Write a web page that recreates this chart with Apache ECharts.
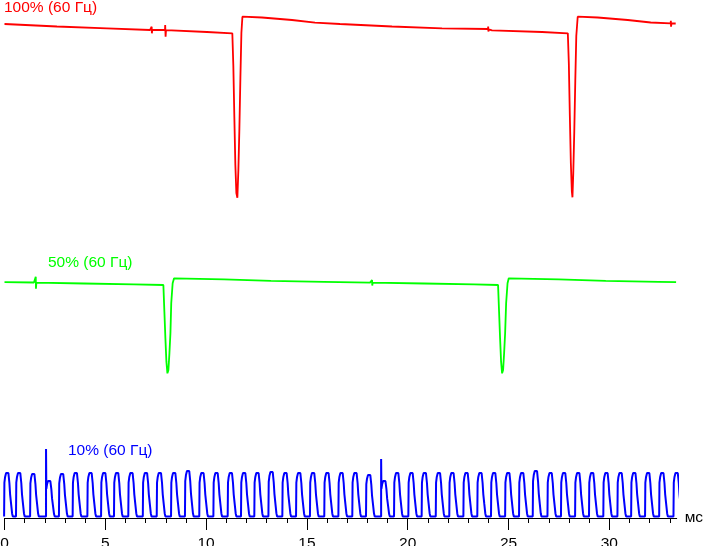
<!DOCTYPE html>
<html>
<head>
<meta charset="utf-8">
<script src="https://cdn.jsdelivr.net/npm/echarts@6.0.0/dist/echarts.min.js"></script>
<style>
  html, body { margin: 0; padding: 0; background: #fff; }
  #chart { width: 703px; height: 546px; }
</style>
</head>
<body>
<div id="chart"></div>
<script>
// time in ms, level = height above the time axis (px of the original plot)
const majorTicks = [0, 5, 10, 15, 20, 25, 30]
const minorTicks = [1, 2, 3, 4, 6, 7, 8, 9, 11, 12, 13, 14, 16, 17, 18, 19,
  21, 22, 23, 24, 26, 27, 28, 29, 31, 32, 33]

// 100% (60 Гц)
const redT = [0, 2.60, 5.08, 7.22, 7.30, 7.31, 7.33, 7.96, 7.97, 7.99, 8.01, 10.04,
  11.30, 11.35, 11.40, 11.45, 11.50, 11.55, 11.60, 11.65, 11.70, 11.75, 11.80,
  12.77, 14.26, 15.40, 16.64, 19.22, 21.70, 23.98, 23.99, 24.00, 24.02, 24.18, 26.66,
  27.94, 27.99, 28.04, 28.09, 28.14, 28.17, 28.21, 28.26, 28.31, 28.36, 28.43,
  29.42, 30.91, 32.05, 33.04, 33.05, 33.06, 33.08, 33.29]
const redV = [494, 491.5, 489.7, 488, 491.3, 484.7, 488, 488, 493, 481.3, 487.8, 486,
  484.7, 452.3, 401, 353, 325, 320.3, 348, 389.3, 440, 485.3, 501.3,
  500.5, 498, 495.3, 494, 491.5, 489.7, 489, 491.5, 486.5, 488.7, 487.7, 486,
  484.7, 454.7, 402, 354.7, 326.3, 320.7, 344.7, 386.3, 437, 482, 501.3,
  500.5, 498, 495.5, 494.7, 497.3, 491.3, 494.5, 494.5]

// 50% (60 Гц)
const greenT = [0, 1.46, 1.55, 1.56, 1.58, 3.94, 6.42,
  7.88, 7.93, 7.98, 8.03, 8.08, 8.13, 8.18, 8.23, 8.27, 8.34, 8.41,
  10.89, 13.22, 15.85, 18.13, 18.23, 18.24, 18.26, 20.81, 23.29,
  24.48, 24.53, 24.58, 24.63, 24.68, 24.73, 24.78, 24.83, 24.88, 24.95, 25.01,
  27.49, 29.82, 32.45, 33.31]
const greenV = [235.9, 235.5, 241.3, 229.3, 235.4, 234.5, 233.6,
  233, 206.3, 179.7, 156.3, 144.7, 148, 164.7, 184.7, 214.7, 234.7, 239.7,
  238.7, 237.2, 236.2, 235.4, 238, 232.5, 235.3, 234.5, 233.6,
  233, 206.3, 179.7, 156.3, 144.7, 148, 164.7, 184.7, 214.7, 234.7, 239.7,
  238.7, 237.2, 236.2, 235.8]

// 10% (60 Гц): start of every PWM pulse, its peak, and the two spikes
const blueRise = [-0.02, 0.57, 1.27, 2.06, 2.70, 3.38, 4.11, 4.79, 5.43, 6.14,
  6.86, 7.55, 8.26, 8.95, 9.66, 10.36, 11.07, 11.73, 12.39, 13.09,
  13.78, 14.46, 15.15, 15.86, 16.56, 17.25, 17.93, 18.68, 19.32, 20.03,
  20.69, 21.39, 22.06, 22.76, 23.45, 24.13, 24.83, 25.52, 26.20, 26.93,
  27.60, 28.30, 28.99, 29.70, 30.40, 31.08, 31.77, 32.47, 33.18]
const bluePeak = [45, 45, 44, 37, 44, 45, 45, 45, 45, 45,
  45, 45, 45, 47, 45, 45, 45, 45, 45, 46,
  45, 45, 45, 45, 45, 45, 43, 37, 45, 45,
  45, 45, 45, 45, 45, 45, 45, 45, 47, 45,
  45, 45, 45, 45, 45, 45, 45, 45, 45]
const spikeT = [2.06, 18.68]
const spikeV = [69, 59]
// one pulse: offset from its start (ms), share of its peak
const pulseDt = [0, 0.015, 0.05, 0.1, 0.213, 0.263, 0.298, 0.347, 0.397, 0.432]
const pulseShare = [0, 0.78, 0.91, 1, 1, 0.77, 0.51, 0.29, 0.07, 0]
const blueBase = 1.5

function pairs(t, v) {
  return t.map((x, i) => [x, v[i]])
}

function bluePoints() {
  const pts = []
  blueRise.forEach((t0, i) => {
    pulseDt.forEach((dt, j) => {
      pts.push([t0 + dt, blueBase + pulseShare[j] * (bluePeak[i] - blueBase)])
      const k = spikeT.indexOf(t0)
      if (j === 0 && k >= 0) pts.push([t0, spikeV[k]])
    })
  })
  return pts
}

const font = 'Liberation Sans, Arial, sans-serif'
const chart = echarts.init(document.getElementById('chart'))

function line(data, color, width) {
  return {
    type: 'line',
    data: data,
    symbol: 'none',
    clip: true,
    animation: false,
    lineStyle: {color: color, width: width},
    itemStyle: {color: color}
  }
}

const option = {
  backgroundColor: '#fff',
  animation: false,
  grid: {left: 4.5, right: 26.3, top: 0, bottom: 28, containLabel: false, outerBoundsMode: 'none'},
  xAxis: [
    {
      type: 'value',
      min: 0,
      max: 33.34,
      axisLine: {lineStyle: {color: '#000', width: 1}},
      axisTick: {length: 12, customValues: majorTicks, lineStyle: {color: '#000'}},
      axisLabel: {customValues: majorTicks, color: '#000', fontSize: 15.5, fontFamily: font, margin: 18},
      splitLine: {show: false},
      name: 'мс',
      nameLocation: 'end',
      nameGap: 8,
      nameTextStyle: {color: '#000', fontSize: 15.5, fontFamily: font, padding: [8, 0, 0, 0]}
    },
    {
      type: 'value',
      min: 0,
      max: 33.34,
      position: 'bottom',
      axisLine: {show: false},
      axisTick: {length: 5, customValues: minorTicks, lineStyle: {color: '#000'}},
      axisLabel: {show: false},
      splitLine: {show: false}
    }
  ],
  yAxis: {type: 'value', min: 0, max: 518, show: false},
  series: [
    line(pairs(redT, redV), '#ff0000', 1.8),
    line(pairs(greenT, greenV), '#00ff00', 1.8),
    line(bluePoints(), '#0000ff', 2)
  ],
  graphic: [
    {type: 'text', x: 4, y: 8, style: {text: '100% (60 Гц)', fill: '#ff0000', font: '15.5px ' + font, verticalAlign: 'middle'}},
    {type: 'text', x: 48, y: 263, style: {text: '50% (60 Гц)', fill: '#00ff00', font: '15.5px ' + font, verticalAlign: 'middle'}},
    {type: 'text', x: 68, y: 450.5, style: {text: '10% (60 Гц)', fill: '#0000ff', font: '15.5px ' + font, verticalAlign: 'middle'}}
  ]
}
chart.setOption(option)
</script>
</body>
</html>
